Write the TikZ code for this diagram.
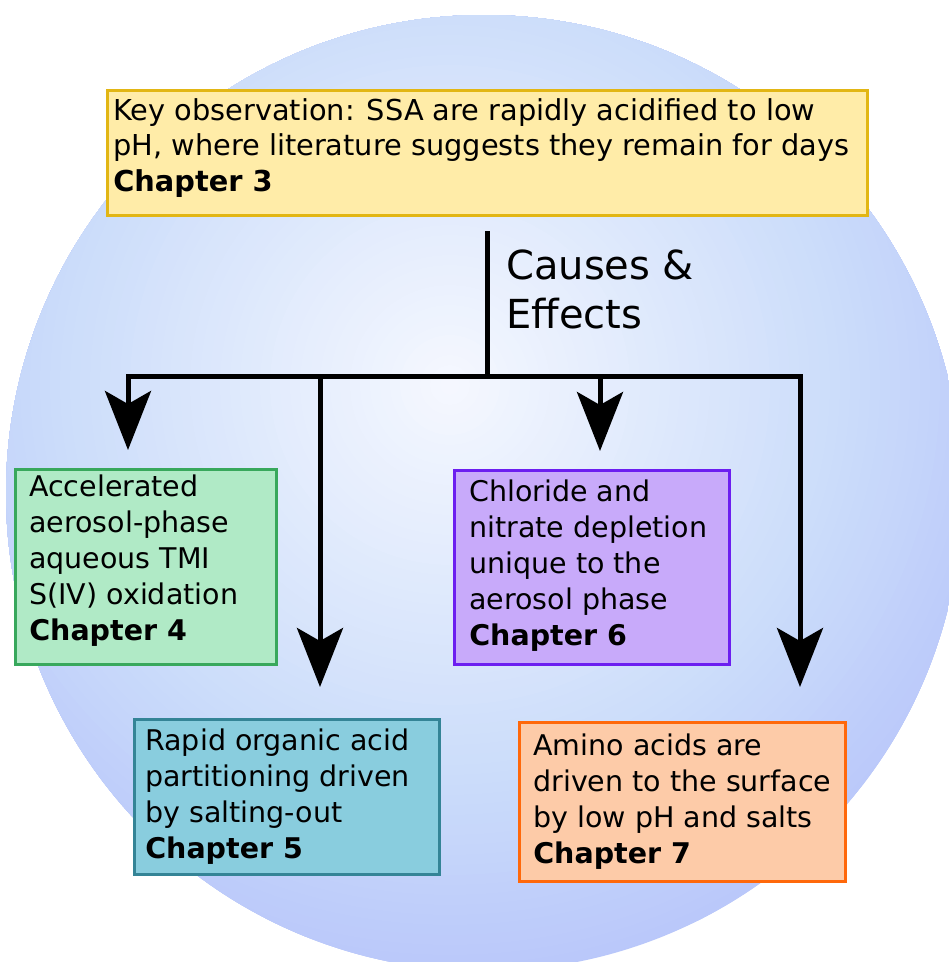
\documentclass[tikz,border=0pt]{standalone}
\usepackage{fontspec}
\setmainfont{DejaVu Sans}
\usetikzlibrary{arrows.meta}
\definecolor{keyfill}{RGB}{255,236,168}
\definecolor{keydraw}{RGB}{226,182,20}
\definecolor{gfill}{RGB}{176,234,198}
\definecolor{gdraw}{RGB}{56,168,92}
\definecolor{bfill}{RGB}{137,205,222}
\definecolor{bdraw}{RGB}{52,132,150}
\definecolor{pfill}{RGB}{200,170,250}
\definecolor{pdraw}{RGB}{108,30,240}
\definecolor{ofill}{RGB}{253,203,168}
\definecolor{odraw}{RGB}{255,104,10}
% #1 height, #2 width, #3 left pad, #4 top space, #5 font size, #6 skip, #7 text
\newcommand\boxbody[7]{\parbox[c][#1][t]{#2}{\raggedright\leftskip=#3\fontsize{#5}{#6}\selectfont\vspace*{#4}\strut #7}}
\tikzset{
  cbox/.style={draw, line width=2.6pt, inner sep=0pt, anchor=north west},
  conn/.style={line width=5pt, line join=miter},
  tip/.style={-{Stealth[length=59pt,width=46pt,inset=13pt]}}
}
\begin{document}
\begin{tikzpicture}[x=1pt,y=-1pt]
\useasboundingbox (0,0) rectangle (949,962);
\fill[white] (0,0) rectangle (949,962);
\begin{scope}
  \clip (484,493) circle (478);
  \foreach \i in {0,...,59} {
    \pgfmathsetmacro\f{1-\i/60}
    \pgfmathsetmacro\rc{(\f>0.65 ? 204+(\f-0.65)/0.35*(185-204) : 246+\f/0.65*(204-246))/255}
    \pgfmathsetmacro\gc{(\f>0.65 ? 221+(\f-0.65)/0.35*(199-221) : 248+\f/0.65*(221-248))/255}
    \pgfmathsetmacro\bc{(\f>0.65 ? 250 : 255+\f/0.65*(250-255))/255}
    \definecolor{ring}{rgb}{\rc,\gc,\bc}
    \fill[ring] (450,385) circle ({600*\f});
  }
\end{scope}

\node[cbox, draw=keydraw, fill=keyfill] (key) at (106,89)
  {\boxbody{125pt}{760pt}{6pt}{5pt}{28.8}{35.5}{Key observation: SSA are rapidly acidified to low\\pH, where literature suggests they remain for days\\\textbf{Chapter 3}}};

\node[cbox, draw=gdraw, fill=gfill] (ch4) at (14,468)
  {\boxbody{195pt}{261pt}{14pt}{1.8pt}{28.5}{36}{Accelerated\\aerosol-phase\\aqueous TMI\\S(IV) oxidation\\\textbf{Chapter 4}}};

\node[cbox, draw=pdraw, fill=pfill] (ch6) at (453,469)
  {\boxbody{194pt}{275pt}{15pt}{5.8pt}{28.5}{36}{Chloride and\\nitrate depletion\\unique to the\\aerosol phase\\\textbf{Chapter 6}}};

\node[cbox, draw=bdraw, fill=bfill] (ch5) at (133,718)
  {\boxbody{155pt}{305pt}{11pt}{5.8pt}{28.5}{36}{Rapid organic acid\\partitioning driven\\by salting-out\\\textbf{Chapter 5}}};

\node[cbox, draw=odraw, fill=ofill] (ch7) at (518,721)
  {\boxbody{159pt}{326pt}{14pt}{7.8pt}{28.5}{36}{Amino acids are\\driven to the surface\\by low pH and salts\\\textbf{Chapter 7}}};

\node[inner sep=0pt, anchor=base west] (cause) at (506,279)
  {\parbox[t]{300pt}{\fontsize{40}{49}\selectfont Causes \&\\Effects}};

\coordinate (stem) at (487,231);
\coordinate (hub) at (487,376);
\coordinate (t4) at (128,450);
\coordinate (t5) at (320,687);
\coordinate (t6) at (600,451);
\coordinate (t7) at (800,687);

\draw[conn] (stem) -- (hub);
\draw[conn,tip] (hub) -| (t4);
\draw[conn,tip] (hub) -| (t5);
\draw[conn,tip] (hub) -| (t6);
\draw[conn,tip] (hub) -| (t7);
\end{tikzpicture}
\end{document}
